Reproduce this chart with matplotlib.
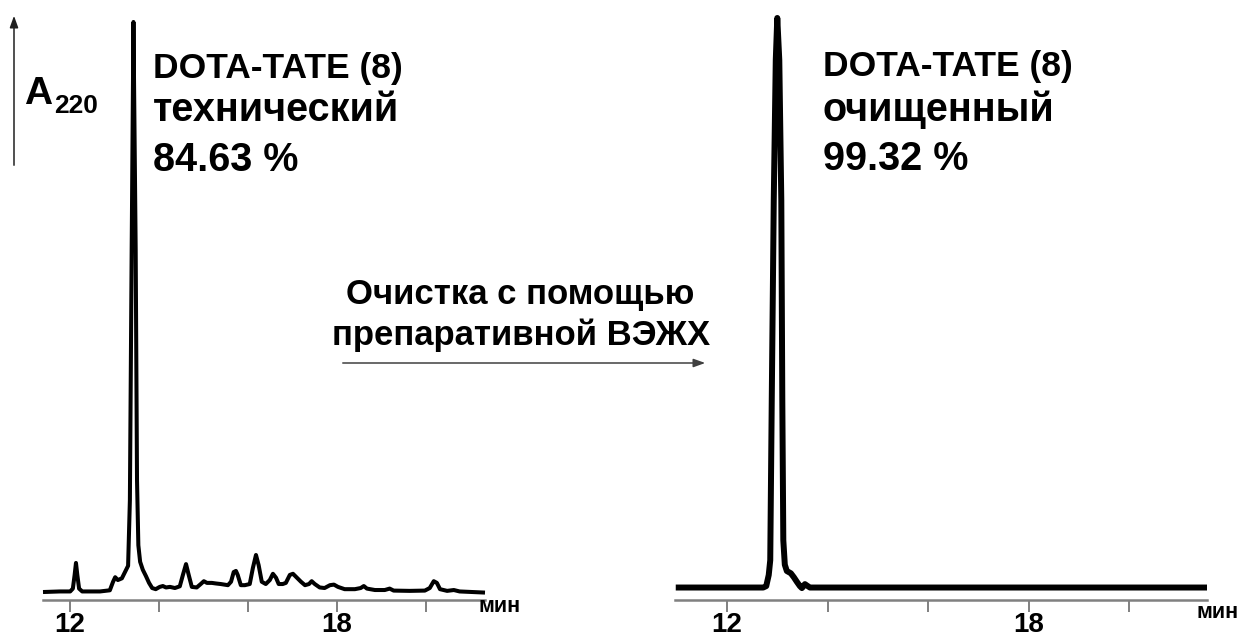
import matplotlib
matplotlib.use("Agg")
import matplotlib.pyplot as plt

plt.rcParams['font.family'] = ['Liberation Sans', 'DejaVu Sans']

# chromatogram traces: retention time (min) and A220 signal (main peak = 100)
crude_t = [11.40, 11.78, 12.01, 12.07, 12.11, 12.14, 12.17, 12.21, 12.28, 12.68,
           12.90, 12.97, 13.02, 13.08, 13.17, 13.24, 13.31, 13.35, 13.39, 13.43,
           13.48, 13.51, 13.54, 13.58, 13.64, 13.71, 13.78, 13.85, 13.93, 14.02,
           14.09, 14.16, 14.25, 14.36, 14.47, 14.54, 14.61, 14.67, 14.74, 14.85,
           14.94, 15.01, 15.08, 15.19, 15.28, 15.39, 15.55, 15.62, 15.68, 15.73,
           15.77, 15.84, 15.93, 16.04, 16.11, 16.18, 16.24, 16.31, 16.40, 16.49,
           16.56, 16.63, 16.69, 16.78, 16.85, 16.94, 17.01, 17.10, 17.19, 17.28,
           17.37, 17.43, 17.50, 17.61, 17.72, 17.84, 17.93, 18.02, 18.17, 18.40,
           18.53, 18.60, 18.67, 18.85, 19.07, 19.18, 19.27, 19.63, 19.97, 20.08,
           20.17, 20.24, 20.31, 20.47, 20.62, 20.75, 21.32]
crude_a = [0.0, 0.1, 0.1, 0.6, 3.0, 5.1, 3.0, 0.6, 0.1, 0.1,
           0.3, 1.75, 2.6, 2.1, 2.4, 3.5, 4.6, 16.1, 60.0, 100.0,
           60.0, 19.6, 8.2, 5.3, 3.9, 2.8, 1.6, 0.7, 0.5, 0.9,
           1.05, 0.8, 0.9, 0.7, 1.0, 3.0, 4.9, 3.0, 0.9, 0.8,
           1.4, 1.9, 1.6, 1.6, 1.5, 1.4, 1.2, 1.8, 3.5, 3.7,
           3.0, 1.2, 1.2, 1.4, 4.2, 6.5, 4.7, 1.8, 1.4, 2.1,
           3.2, 2.5, 1.4, 1.4, 1.6, 3.0, 3.2, 2.5, 1.8, 1.2,
           1.4, 1.9, 1.4, 0.8, 0.7, 1.2, 1.3, 0.9, 0.5, 0.5,
           0.7, 1.05, 0.6, 0.35, 0.35, 0.6, 0.25, 0.2, 0.25, 0.7,
           1.9, 1.6, 0.5, 0.2, 0.35, 0.1, -0.1]

pure_t = [10.98, 12.72, 12.78, 12.83, 12.86, 12.89, 12.93, 12.97, 13.00, 13.04,
          13.08, 13.10, 13.12, 13.15, 13.19, 13.27, 13.33, 13.39, 13.45, 13.49,
          13.55, 13.59, 13.65, 21.55]
pure_a = [0.0, 0.0, 0.25, 2.2, 4.8, 32.9, 68.0, 92.6, 100.0, 92.6,
          68.0, 32.9, 8.3, 4.0, 2.9, 2.5, 1.8, 1.0, 0.25, -0.1,
          0.6, 0.35, 0.0, 0.0]

ticks = [12, 14, 16, 18, 20]
tick_labels = ['12', '', '', '18', '']

W, H = 1240, 639
fig = plt.figure(figsize=(W / 100, H / 100), dpi=100)


def fpos(x, y):
    return x / W, 1 - y / H


def trace_axes(x0, x1, xlim, ylim, t, a, lw):
    ax = fig.add_axes([x0 / W, (H - 600) / H, (x1 - x0) / W, 590 / H])
    ax.plot(t, a, color='black', lw=lw, solid_joinstyle='round',
            solid_capstyle='butt', clip_on=False)
    ax.set_xlim(*xlim)
    ax.set_ylim(*ylim)
    for s in ['top', 'right', 'left']:
        ax.spines[s].set_visible(False)
    ax.spines['bottom'].set_color('#808080')
    ax.spines['bottom'].set_linewidth(1.8)
    ax.set_yticks([])
    ax.set_xticks(ticks)
    ax.set_xticklabels(tick_labels, fontsize=20, fontweight='bold')
    ax.tick_params(axis='x', direction='out', length=8.5, width=1.4,
                   color='#808080', pad=0)
    ax.patch.set_alpha(0)
    return ax


trace_axes(43, 485, (11.40, 21.32), (-1.40, 102.1), crude_t, crude_a, 2.9)
trace_axes(675, 1207, (10.965, 21.55), (-2.19, 101.4), pure_t, pure_a, 4.3)

bold = dict(fontweight='bold', color='black')
fig.text(*fpos(500, 606), 'мин', ha='center', va='center', fontsize=15.5, **bold)
fig.text(*fpos(1218, 613), 'мин', ha='center', va='center', fontsize=15.5, **bold)

# peak labels
fig.text(*fpos(153, 78), 'DOTA-TATE (8)', fontsize=25.5, va='baseline', **bold)
fig.text(*fpos(153, 121), 'технический', fontsize=28.5, va='baseline', **bold)
fig.text(*fpos(153, 171), '84.63 %', fontsize=28.5, va='baseline', **bold)
fig.text(*fpos(823, 76), 'DOTA-TATE (8)', fontsize=25.5, va='baseline', **bold)
fig.text(*fpos(823, 121), 'очищенный', fontsize=28.5, va='baseline', **bold)
fig.text(*fpos(823, 170), '99.32 %', fontsize=28.5, va='baseline', **bold)

fig.text(*fpos(520, 304), 'Очистка с помощью', fontsize=25, ha='center',
         va='baseline', **bold)
fig.text(*fpos(521, 345), 'препаративной ВЭЖХ', fontsize=25, ha='center',
         va='baseline', **bold)

# A220 label on the signal axis
fig.text(*fpos(24, 104), 'A', fontsize=28, va='baseline', **bold)
fig.text(*fpos(54, 113), '220', fontsize=19, va='baseline', **bold)

arrow = dict(arrowstyle='-|>,head_length=0.5,head_width=0.18', lw=1.1)
fig.add_artist(matplotlib.patches.FancyArrowPatch(
    fpos(14, 168), fpos(14, 13), transform=fig.transFigure,
    color='#202020', mutation_scale=14, **arrow))
fig.add_artist(matplotlib.patches.FancyArrowPatch(
    fpos(340, 363), fpos(708, 363), transform=fig.transFigure,
    color='#404040', mutation_scale=14, **arrow))

fig.savefig('out.png', dpi=100, facecolor='white')
